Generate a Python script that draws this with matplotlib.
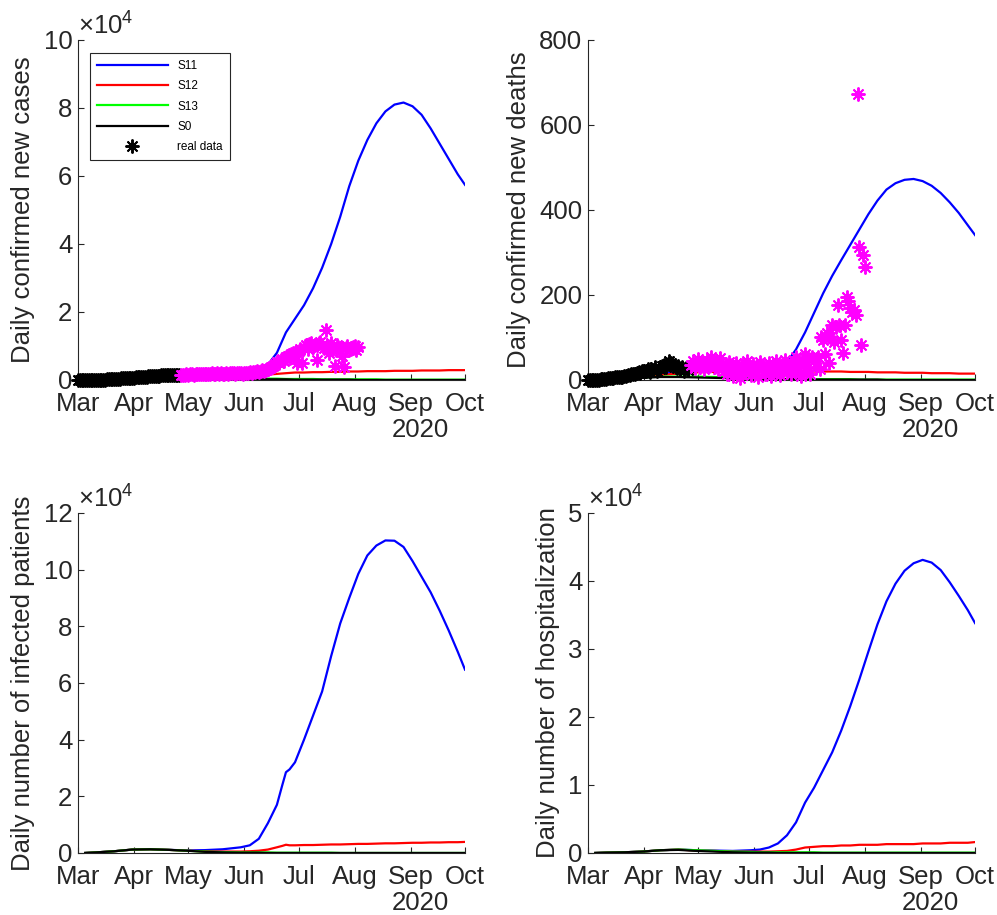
import numpy as np
import matplotlib
matplotlib.use('Agg')
import matplotlib.pyplot as plt

plt.rcParams['font.family'] = ['Liberation Sans', 'DejaVu Sans']
plt.rcParams['mathtext.fontset'] = 'custom'
plt.rcParams['mathtext.rm'] = 'Liberation Sans'

start = np.datetime64('2020-03-01')
month_days = [0, 31, 61, 92, 122, 153, 184, 214]
month_labels = ['Mar', 'Apr', 'May', 'Jun', 'Jul', 'Aug', 'Sep', 'Oct']

# ---- daily confirmed new cases (real data) ----
cases_black = [0, 0, 1, 2, 5, 8, 10, 15, 20, 30, 40, 55, 70, 90, 110, 140, 170, 200, 240, 280,
               320, 350, 400, 430, 470, 500, 540, 580, 600, 650, 700,
               720, 760, 800, 850, 900, 880, 950, 1000, 1050, 1100, 1050, 1150, 1200, 1250,
               1300, 1500, 1400, 1350, 1450, 1500, 1400, 1550, 1500, 1600, 1450, 1550]
cases_magenta = [1500, 1600, 1450, 1700, 1550, 1650, 1800, 1600, 1700, 1900, 1750, 1650, 1800, 1850,
                 1700, 1900, 1800, 2000, 1750, 1850, 1950, 1800, 2100, 1900, 1700, 2000, 1850, 1950,
                 2100, 2200, 1800, 1950, 2050, 2200, 1900,
                 2000, 2200, 2100, 2300, 2150, 2400, 2250, 2500, 2300, 2600, 2800, 2500, 3000, 3200,
                 3500, 3800, 4200, 4600, 5200, 5000, 5800, 6300, 5600, 6800, 7200, 6500, 7600, 8000, 7400,
                 5000, 8500, 9000, 5000, 9500, 10200, 9000, 10500, 11000, 9800, 10400, 5900, 10800, 11200,
                 10300, 9500, 14700, 10000, 8000, 10800,
                 9000, 4000, 10200, 9600, 8500, 7000, 3900, 9500, 10000, 8800, 9200, 9800, 10000, 8900, 9600]

# ---- daily confirmed new deaths (real data) ----
deaths_black = [0, 0, 0, 0, 1, 1, 1, 2, 2, 3, 3, 4, 4, 5, 5, 6, 6, 7, 8, 8, 9, 10, 12, 11, 13, 14,
                15, 16, 18, 17, 20,
                22, 20, 25, 18, 27, 24, 30, 22, 28, 26, 32, 35, 30, 38, 45, 40, 36, 32, 28, 34,
                25, 30, 22, 28, 24, 30]
deaths_magenta = [35, 45, 28, 40, 50, 30, 42, 25, 38, 48, 33, 55, 40, 30,
                  45, 25, 52, 38, 20, 35, 15, 42, 30, 10, 28, 40, 22, 5, 35, 30, 18, 45, 25, 12,
                  38, 20, 30, 8, 42, 25, 35, 15, 28, 40, 10, 32, 20, 45, 28, 12, 35, 22, 48, 18,
                  30, 15, 40, 25, 55, 20, 35, 10, 45, 60, 28, 50, 15, 55,
                  45, 30, 55, 25, 100, 95, 60, 110, 41, 100, 130, 90, 125, 176, 130, 94, 63, 130,
                  196, 185, 170, 160, 165, 153, 674, 314, 82, 294, 267]

# ---- model curves (days since Mar 1) ----
# new cases, x1e4
nc_days = [4, 10, 20, 30, 40, 50, 60, 70, 80, 90, 95, 100, 105, 110, 115, 120, 125, 130, 135,
           140, 145, 150, 155, 160, 165, 170, 175, 180, 185, 190, 195, 200, 205, 210, 214]
nc_s11 = [0.01, 0.02, 0.05, 0.08, 0.1, 0.1, 0.1, 0.12, 0.14, 0.18, 0.22, 0.3, 0.45, 0.8, 1.4,
          1.8, 2.2, 2.7, 3.3, 4.0, 4.8, 5.7, 6.45, 7.06, 7.55, 7.9, 8.1, 8.16, 8.05, 7.8, 7.4,
          6.95, 6.5, 6.05, 5.74]
nc_s12 = [0.01, 0.02, 0.05, 0.08, 0.1, 0.1, 0.1, 0.1, 0.11, 0.12, 0.13, 0.15, 0.16, 0.18, 0.2,
          0.22, 0.22, 0.23, 0.23, 0.24, 0.24, 0.25, 0.25, 0.26, 0.26, 0.26, 0.27, 0.27, 0.27,
          0.28, 0.28, 0.28, 0.29, 0.29, 0.29]
nc_s13 = [0.01, 0.02, 0.05, 0.08, 0.1, 0.1, 0.08, 0.07, 0.06, 0.05, 0.05, 0.04, 0.04, 0.04, 0.03,
          0.03, 0.03, 0.03, 0.02, 0.02, 0.02, 0.02, 0.02, 0.02, 0.02, 0.01, 0.01, 0.01, 0.01,
          0.01, 0.01, 0.01, 0.01, 0.01, 0.01]
nc_s0 = [0.01, 0.02, 0.05, 0.08, 0.1, 0.1, 0.07, 0.05, 0.04, 0.03, 0.03, 0.02, 0.02, 0.02, 0.02,
         0.01, 0.01, 0.01, 0.01, 0.01, 0.01, 0.01, 0.0, 0.0, 0.0, 0.0, 0.0, 0.0, 0.0, 0.0, 0.0,
         0.0, 0.0, 0.0, 0.0]

# new deaths
nd_s11 = [0, 1, 4, 10, 15, 18, 20, 22, 24, 27, 30, 33, 38, 42, 72, 112, 158, 204, 245, 282,
          318, 354, 390, 422, 448, 463, 471, 473, 468, 457, 440, 418, 393, 364, 341]
nd_s12 = [0, 1, 4, 8, 12, 15, 18, 19, 20, 20, 20, 20, 20, 20, 20, 20, 20, 20, 20, 20, 19, 19,
          19, 18, 18, 18, 17, 17, 17, 16, 16, 16, 15, 15, 15]
nd_s13 = [0, 1, 4, 6, 8, 8, 8, 7, 6, 5, 4, 4, 3, 3, 3, 2, 2, 2, 2, 2, 2, 1, 1, 1, 1, 1, 1, 1,
          1, 1, 1, 1, 1, 1, 1]
nd_s0 = [0, 1, 4, 5, 7, 7, 6, 5, 4, 3, 3, 2, 2, 2, 2, 1, 1, 1, 1, 1, 1, 1, 1, 1, 0, 0, 0, 0,
         0, 0, 0, 0, 0, 0, 0]

# infected patients, x1e4
ip_days = [4, 10, 20, 30, 40, 50, 60, 70, 80, 90, 95, 100, 105, 110, 113, 115, 117, 120, 125,
           130, 135, 140, 145, 150, 155, 160, 165, 170, 175, 180, 185, 190, 195, 200, 205, 210, 214]
ip_s11 = [0.0, 0.02, 0.06, 0.12, 0.13, 0.11, 0.09, 0.1, 0.13, 0.2, 0.27, 0.5, 1.05, 1.7, 2.4,
          2.85, 2.95, 3.2, 4.0, 4.85, 5.7, 6.95, 8.1, 9.0, 9.85, 10.5, 10.85, 11.03, 11.02, 10.8,
          10.3, 9.75, 9.2, 8.55, 7.85, 7.1, 6.47]
ip_s12 = [0.0, 0.02, 0.06, 0.12, 0.13, 0.11, 0.08, 0.06, 0.05, 0.05, 0.06, 0.08, 0.12, 0.2, 0.25,
          0.29, 0.27, 0.27, 0.28, 0.28, 0.29, 0.3, 0.3, 0.31, 0.32, 0.32, 0.33, 0.34, 0.34, 0.35,
          0.36, 0.36, 0.37, 0.37, 0.38, 0.38, 0.39]
ip_s13 = [0.0, 0.02, 0.06, 0.12, 0.13, 0.11, 0.08, 0.05, 0.03, 0.02, 0.02, 0.02, 0.02, 0.01, 0.01,
          0.01, 0.01, 0.01, 0.01, 0.01, 0.01, 0.01, 0.0, 0.0, 0.0, 0.0, 0.0, 0.0, 0.0, 0.0, 0.0,
          0.0, 0.0, 0.0, 0.0, 0.0, 0.0]
ip_s0 = [0.0, 0.02, 0.06, 0.12, 0.13, 0.11, 0.08, 0.04, 0.02, 0.01, 0.01, 0.01, 0.0, 0.0, 0.0,
         0.0, 0.0, 0.0, 0.0, 0.0, 0.0, 0.0, 0.0, 0.0, 0.0, 0.0, 0.0, 0.0, 0.0, 0.0, 0.0, 0.0,
         0.0, 0.0, 0.0, 0.0, 0.0]

# hospitalization, x1e4
hp_days = nc_days
hp_s11 = [0.0, 0.005, 0.01, 0.02, 0.04, 0.05, 0.04, 0.035, 0.03, 0.04, 0.05, 0.08, 0.14, 0.26,
          0.45, 0.74, 0.96, 1.22, 1.48, 1.8, 2.16, 2.55, 2.96, 3.36, 3.7, 3.96, 4.15, 4.26, 4.31,
          4.27, 4.16, 3.98, 3.78, 3.57, 3.38]
hp_s12 = [0.0, 0.005, 0.01, 0.02, 0.04, 0.05, 0.035, 0.03, 0.02, 0.02, 0.02, 0.02, 0.025, 0.03,
          0.05, 0.08, 0.09, 0.1, 0.1, 0.11, 0.11, 0.12, 0.12, 0.12, 0.13, 0.13, 0.13, 0.13, 0.14,
          0.14, 0.14, 0.15, 0.15, 0.15, 0.16]
hp_s13 = [0.0, 0.005, 0.01, 0.02, 0.04, 0.05, 0.04, 0.03, 0.02, 0.015, 0.01, 0.01, 0.01, 0.01,
          0.01, 0.01, 0.01, 0.005, 0.005, 0.005, 0.005, 0.005, 0.005, 0.005, 0.005, 0.005, 0.005,
          0.005, 0.005, 0.005, 0.005, 0.005, 0.005, 0.005, 0.005]
hp_s0 = [0.0, 0.005, 0.01, 0.02, 0.04, 0.045, 0.03, 0.02, 0.01, 0.005, 0.005, 0.005, 0.0, 0.0,
         0.0, 0.0, 0.0, 0.0, 0.0, 0.0, 0.0, 0.0, 0.0, 0.0, 0.0, 0.0, 0.0, 0.0, 0.0, 0.0, 0.0,
         0.0, 0.0, 0.0, 0.0]

line_colors = {'S11': '#0000FF', 'S12': '#FF0000', 'S13': '#00FF00', 'S0': '#000000'}
FS = 18.5
TXT = '#262626'
ast = (8, 2, 0)


def to_dates(days):
    return start + np.array(days).astype('timedelta64[D]')


def style_axes(ax, ylabel, yticks, ylim, exp=False):
    for s in ['top', 'right']:
        ax.spines[s].set_visible(False)
    for s in ['left', 'bottom']:
        ax.spines[s].set_color(TXT)
        ax.spines[s].set_linewidth(0.8)
    ax.set_xlim(to_dates([0])[0], to_dates([214])[0])
    ax.set_xticks(to_dates(month_days))
    ax.set_xticklabels(month_labels)
    ax.set_ylim(*ylim)
    ax.set_yticks(yticks)
    ax.set_yticklabels([str(t) for t in yticks])
    ax.tick_params(direction='in', length=4, width=0.8, labelsize=FS, colors=TXT,
                   labelcolor=TXT)
    ax.tick_params(axis='x', pad=9)
    ax.tick_params(axis='y', pad=4)
    ax.set_ylabel(ylabel, fontsize=FS, color=TXT, labelpad=6)
    ax.text(0.884, -0.147, '2020', transform=ax.transAxes, ha='center', va='center',
            fontsize=FS, color=TXT)
    if exp:
        ax.annotate(r'$\times\mathregular{10^{4}}$', xy=(0, 1), xycoords='axes fraction',
                    xytext=(0, 0), textcoords='offset points', ha='left', va='bottom',
                    fontsize=FS, color=TXT)


def plot_models(ax, days, s11, s12, s13, s0):
    d = to_dates(days)
    ax.plot(d, s11, color=line_colors['S11'], lw=1.6, label='S11')
    ax.plot(d, s12, color=line_colors['S12'], lw=1.6, label='S12')
    ax.plot(d, s13, color=line_colors['S13'], lw=1.6, label='S13')
    ax.plot(d, s0, color=line_colors['S0'], lw=1.6, label='S0')


def plot_real(ax, black, magenta, scale=1.0):
    db = to_dates(np.arange(len(black)))
    dm = to_dates(np.arange(len(black), len(black) + len(magenta)))
    ax.plot(db, np.array(black) / scale, ls='none', marker=ast, ms=10, mew=1.4,
            color='black', label='real data', clip_on=False, zorder=5)
    ax.plot(dm, np.array(magenta) / scale, ls='none', marker=ast, ms=10, mew=1.4,
            color='#FF00FF', clip_on=False, zorder=5)


fig = plt.figure(figsize=(9.97, 9.15), dpi=100)
ax1 = fig.add_axes([0.0782, 0.5847, 0.3882, 0.3716])
ax2 = fig.add_axes([0.5898, 0.5847, 0.3882, 0.3716])
ax3 = fig.add_axes([0.0782, 0.0678, 0.3882, 0.3716])
ax4 = fig.add_axes([0.5898, 0.0678, 0.3882, 0.3716])

# top left: new cases
plot_models(ax1, nc_days, nc_s11, nc_s12, nc_s13, nc_s0)
plot_real(ax1, cases_black, cases_magenta, scale=1e4)
style_axes(ax1, 'Daily confirmed new cases', [0, 2, 4, 6, 8, 10], (0, 10), exp=True)
leg = ax1.legend(loc='upper left', bbox_to_anchor=(0.031, 0.962), borderaxespad=0,
                 fontsize=8.5, handlelength=6, labelspacing=0.7, numpoints=1,
                 fancybox=False, framealpha=1, borderpad=0.6, handletextpad=0.8)
leg.get_frame().set_edgecolor(TXT)
leg.get_frame().set_linewidth(0.8)

# top right: new deaths
plot_models(ax2, nc_days, nd_s11, nd_s12, nd_s13, nd_s0)
plot_real(ax2, deaths_black, deaths_magenta)
style_axes(ax2, 'Daily confirmed new deaths', [0, 200, 400, 600, 800], (0, 800))

# bottom left: infected patients
plot_models(ax3, ip_days, ip_s11, ip_s12, ip_s13, ip_s0)
style_axes(ax3, 'Daily number of infected patients', [0, 2, 4, 6, 8, 10, 12], (0, 12), exp=True)

# bottom right: hospitalization
plot_models(ax4, hp_days, hp_s11, hp_s12, hp_s13, hp_s0)
style_axes(ax4, 'Daily number of hospitalization', [0, 1, 2, 3, 4, 5], (0, 5), exp=True)

fig.savefig('out.png', dpi=100)
